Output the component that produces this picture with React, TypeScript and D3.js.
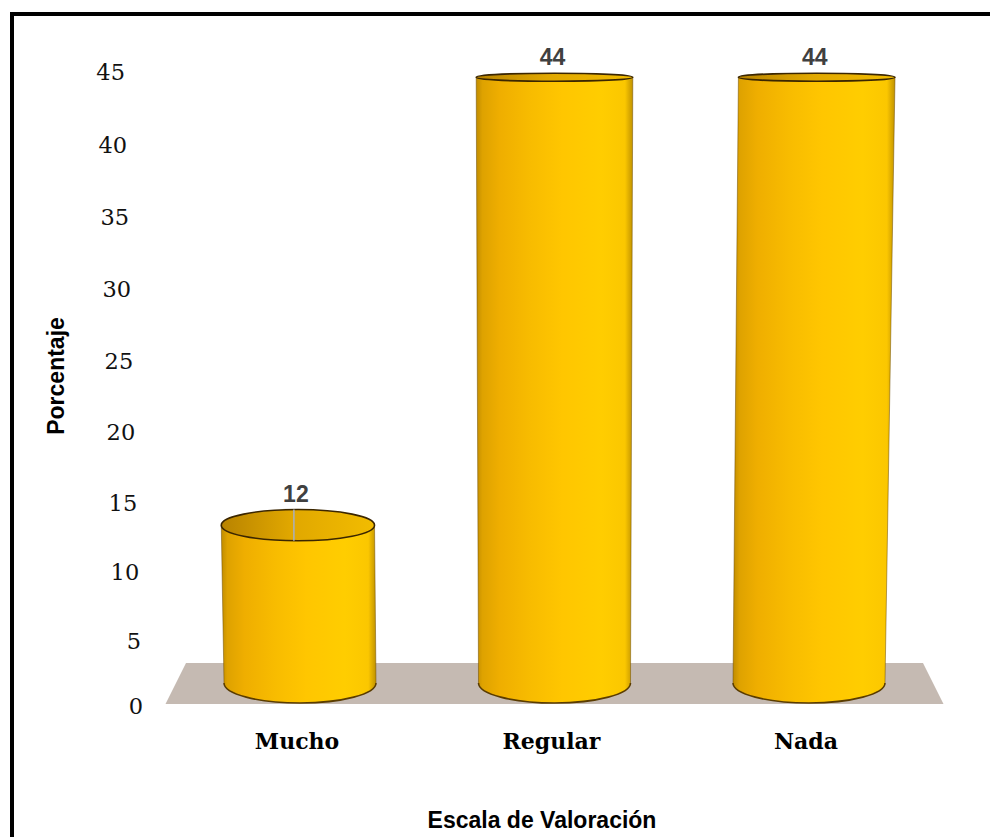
import React from "react";
import * as d3 from "d3";

// Survey results: share of answers per rating level
const categories = ["Mucho", "Regular", "Nada"];
const percentages = [12, 44, 44];
const yTicks = [0, 5, 10, 15, 20, 25, 30, 35, 40, 45];

const W = 990;
const H = 837;

// Slightly perspective-stretched vertical scales (higher values spread a bit more)
const yAxis = d3.scalePow().exponent(1.035).domain([0, 45]).range([706, 72]);
const yBar = d3.scalePow().exponent(1.035).domain([0, 45]).range([683, 63]);
// tick labels drift right toward the floor
const tickX = d3.scaleLinear().domain([72, 706]).range([125, 143]);

const xPos = d3.scalePoint<string>().domain(categories).range([172.75, 936.25]).padding(0.5);
const cxV = (172.75 + 936.25) / 2;

// ellipse foreshortening of a horizontal circle at a given height
const ryScale = d3.scaleLinear().domain([0, 45]).range([20, 3.6]);
// slight outward spread of the tops
const spread = d3.scaleLinear().domain([0, 45]).range([1, 1.031]);
const RX = 76;

function project(cat: string, v: number) {
  const xc = xPos(cat)!;
  const s = spread(v);
  return {
    x: cxV + (xc - cxV) * s,
    y: yBar(v),
    rx: RX * s,
    ry: ryScale(v),
  };
}

export default function App() {
  const floorFrontY = 704;
  const floorBackY = 663;
  const floorFront = 389;
  const floorBack = 368.5;
  const floor = `M${cxV - floorBack},${floorBackY} L${cxV + floorBack},${floorBackY} L${cxV + floorFront},${floorFrontY} L${cxV - floorFront},${floorFrontY} Z`;

  return (
    <svg
      width={W}
      height={H}
      viewBox={`0 0 ${W} ${H}`}
      style={{ position: "absolute", left: 0, top: 0, background: "#fff" }}
    >
      <defs>
        <linearGradient id="cylSide" x1="0" x2="1" y1="0" y2="0">
          <stop offset="0" stopColor="#c08c00" />
          <stop offset="0.04" stopColor="#dea200" />
          <stop offset="0.15" stopColor="#efae00" />
          <stop offset="0.35" stopColor="#f8bc00" />
          <stop offset="0.55" stopColor="#ffc600" />
          <stop offset="0.8" stopColor="#ffcd00" />
          <stop offset="0.95" stopColor="#fbc700" />
          <stop offset="1" stopColor="#c09200" />
        </linearGradient>
        <linearGradient id="cylTop" x1="0" x2="1" y1="0" y2="0">
          <stop offset="0" stopColor="#b88300" />
          <stop offset="0.45" stopColor="#e0a700" />
          <stop offset="1" stopColor="#f2bc00" />
        </linearGradient>
      </defs>

      {/* frame */}
      <path d={`M12,${H} V14 H${W}`} fill="none" stroke="#000" strokeWidth={4} />

      {/* floor */}
      <path d={floor} fill="#c5bab2" />

      {/* y tick labels */}
      {yTicks.map((t) => {
        const y = yAxis(t);
        return (
          <text
            key={t}
            x={tickX(y)}
            y={y}
            dy="0.36em"
            textAnchor="end"
            fontFamily="DejaVu Serif"
            fontSize={22.5}
            fill="#111"
          >
            {t}
          </text>
        );
      })}

      {/* cylinders */}
      {categories.map((c, i) => {
        const v = percentages[i];
        const b = project(c, 0);
        const t = project(c, v);
        const side = `M${b.x - b.rx},${b.y} L${t.x - t.rx},${t.y} L${t.x + t.rx},${t.y} L${b.x + b.rx},${b.y} A${b.rx},${b.ry} 0 0 1 ${b.x - b.rx},${b.y} Z`;
        const bottomArc = `M${b.x + b.rx},${b.y} A${b.rx},${b.ry} 0 0 1 ${b.x - b.rx},${b.y}`;
        const edges = `M${b.x - b.rx},${b.y} L${t.x - t.rx},${t.y} M${b.x + b.rx},${b.y} L${t.x + t.rx},${t.y}`;
        return (
          <g key={c}>
            <path d={side} fill="url(#cylSide)" />
            <path d={edges} fill="none" stroke="#6b4a00" strokeWidth={1} strokeOpacity={0.5} />
            <path d={bottomArc} fill="none" stroke="#5a3c00" strokeWidth={1.6} />
            <ellipse
              cx={t.x}
              cy={t.y}
              rx={t.rx}
              ry={t.ry}
              fill="url(#cylTop)"
              stroke="#3b2600"
              strokeWidth={1.6}
            />
            {t.ry > 8 && (
              <line
                x1={t.x - 4}
                x2={t.x - 4}
                y1={t.y - t.ry}
                y2={t.y + t.ry}
                stroke="#a9b0bc"
                strokeWidth={1.5}
              />
            )}
            <text
              x={t.x - 2}
              y={t.y - t.ry - 8}
              textAnchor="middle"
              fontFamily="Liberation Sans, Arial, sans-serif"
              fontWeight="bold"
              fontSize={23}
              fill="#404040"
            >
              {v}
            </text>
            <text
              x={b.x - 3}
              y={749}
              textAnchor="middle"
              fontFamily="DejaVu Serif"
              fontWeight="bold"
              fontSize={22}
              fill="#000"
            >
              {c}
            </text>
          </g>
        );
      })}

      {/* axis titles */}
      <text
        transform="translate(64,376) rotate(-90)"
        textAnchor="middle"
        fontFamily="Liberation Sans, Arial, sans-serif"
        fontWeight="bold"
        fontSize={23}
        fill="#000"
      >
        Porcentaje
      </text>
      <text
        x={542}
        y={828}
        textAnchor="middle"
        fontFamily="Liberation Sans, Arial, sans-serif"
        fontWeight="bold"
        fontSize={23}
        fill="#000"
      >
        Escala de Valoración
      </text>
    </svg>
  );
}
